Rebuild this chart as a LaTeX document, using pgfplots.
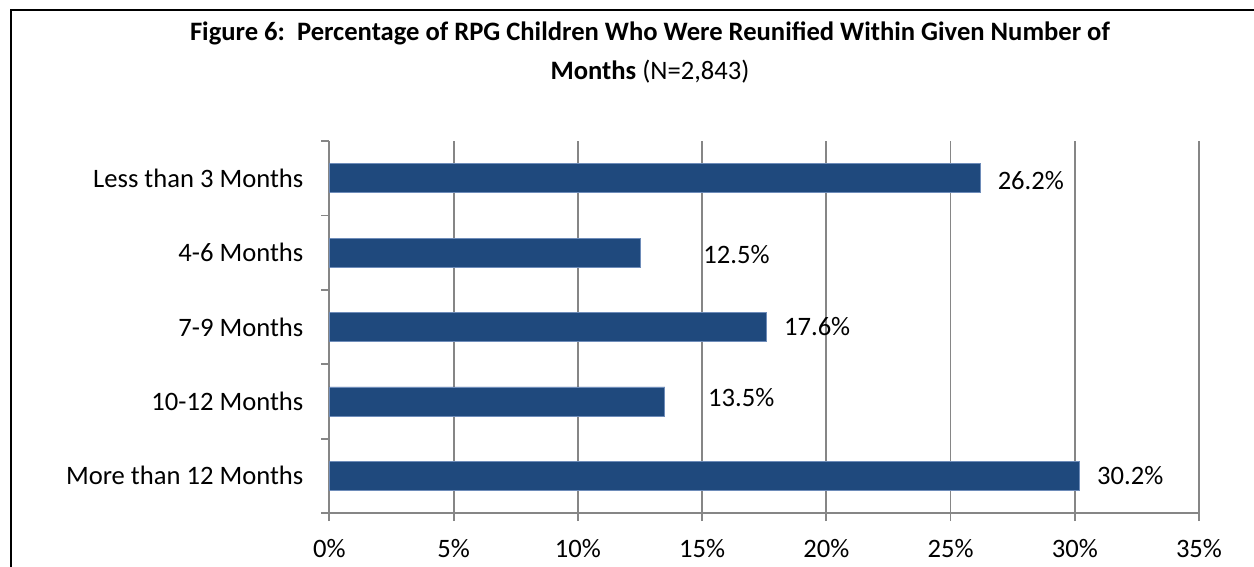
\documentclass[border=0pt]{standalone}
\usepackage{fontspec}
\setmainfont{Carlito}
\usepackage{pgfplots}
\pgfplotsset{compat=1.18}
\usepackage{pgfplotstable}

\definecolor{barblue}{RGB}{31,73,125}
\definecolor{baredge}{RGB}{110,140,185}
\definecolor{gridgray}{RGB}{134,134,134}

% pos = category (0 = top), val = percent, dx/dy = label offset in pt
\pgfplotstableread{
pos val dx dy
0 26.2 8.5 -1
1 12.5 31.5 -1
2 17.6 8.5 0
3 13.5 21.5 2
4 30.2 8.5 0
}\reunif

\begin{document}
\begin{tikzpicture}[x=1pt,y=1pt]
\useasboundingbox (0,0) rectangle (627,-283.5);
\draw[line width=1.2pt] (5.5,-290) -- (5.5,-5) -- (640,-5);
\node[font=\fontsize{13.3}{15}\selectfont\bfseries] at (325,-16.5)
  {Figure 6:\ \ Percentage of RPG Children Who Were Reunified Within Given Number of};
\node[font=\fontsize{13.3}{15}\selectfont] at (325,-36) {\textbf{Months} (N=2,843)};
\begin{axis}[
  at={(164.7pt,-256.5pt)}, anchor=south west,
  scale only axis, width=434.8pt, height=186pt,
  xbar, bar width=14.5pt,
  xmin=0, xmax=35, xtick={0,5,...,35},
  xticklabel={\pgfmathprintnumber{\tick}\%},
  xticklabel style={yshift=-5.5pt},
  /pgf/number format/assume math mode=true,
  ymin=-0.5, ymax=4.5, y dir=reverse,
  ytick={-0.5,0.5,...,4.5}, yticklabels={},
  extra y ticks={0,1,2,3,4},
  extra y tick labels={Less than 3 Months,4-6 Months,7-9 Months,10-12 Months,More than 12 Months},
  extra y tick style={major tick length=0pt, grid=none,
    yticklabel style={xshift=-9.5pt}},
  axis x line*=bottom, axis y line*=left,
  axis line style={gridgray, line width=0.9pt, -},
  tick style={gridgray, line width=0.9pt},
  tick align=outside, major tick length=4pt,
  xmajorgrids, grid style={gridgray, line width=0.9pt},
  every tick label/.append style={font=\fontsize{13.3}{15}\selectfont},
  point meta=x,
  visualization depends on={\thisrow{dx}\as\dx},
  visualization depends on={\thisrow{dy}\as\dy},
  nodes near coords={\pgfmathprintnumber[fixed,fixed zerofill,precision=1]{\pgfplotspointmeta}\%},
  every node near coord/.append style={anchor=west, inner sep=0pt,
    xshift=\dx pt, yshift=\dy pt, font=\fontsize{13.3}{15}\selectfont, black},
  clip=false,
]
\addplot[fill=barblue, draw=baredge, line width=0.4pt] table[x=val, y=pos] {\reunif};
\end{axis}
\end{tikzpicture}
\end{document}
